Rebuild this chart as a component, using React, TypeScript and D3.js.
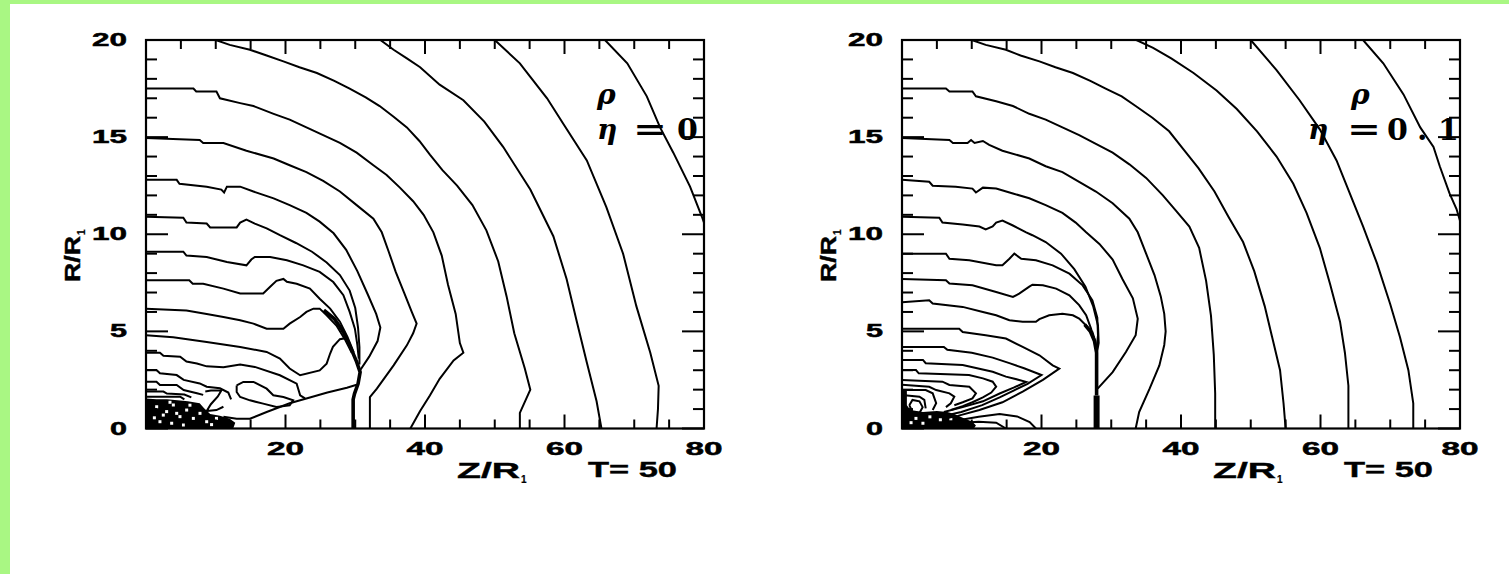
import React from 'react';
import * as d3 from 'd3';

type Pt = [number, number];

// ---- axes / text
const xDomain: Pt = [0, 80];
const yDomain: Pt = [0, 20];
const xTickLabels = [20, 40, 60, 80];
const yTickLabels = [0, 5, 10, 15, 20];
const xTitle = 'Z/R';
const yTitle = 'R/R';
const titleSub = '1';
const timeLabel = 'T= 50';
const paramName = '\u03c1';
const etaName = '\u03b7';
const etaValues = ['0', '0.1'];

// ---- panel 1 (eta = 0) contour lines, [Z/R1, R/R1]
const p1Top66: Pt[] = [[65.8,20],[69,18.8],[71.8,17.1],[73.7,15.5],[75.6,14.2],[78,12.45],[79.7,10.9],[80,10.6]];
const p1Top50: Pt[] = [[50,20],[53.6,18.8],[55.1,18.1],[57.5,17],[59.8,15.7],[63.2,13.8],[66,11.4],[68.4,9],[70.3,6.3],[72.3,3.9],[73.5,2.2],[73.4,1],[73.2,0]];
const p1B: Pt[] = [[33.6,20],[35.5,19.5],[37.4,19.05],[39.3,18.6],[42.1,17.7],[45.5,16.9],[48.5,15.8],[51.2,14.5],[55.1,12.3],[58.4,9.9],[60.3,7.7],[61.7,5.6],[63.2,3.4],[64.6,1.4],[65.3,0]];
const p1A: Pt[] = [[10,20],[12,19.75],[14.9,19.5],[17.3,19.2],[19.7,18.9],[22,18.6],[24.5,18.3],[27,17.9],[29.2,17.5],[31.5,17.05],[33.5,16.6],[35.5,16.05],[37.4,15.5],[39.2,14.8],[40.7,14.1],[42.5,13.3],[44.6,12.5],[46.8,11.5],[48.8,10.2],[50.5,8.6],[51.7,6.8],[52.8,4.9],[54.3,3.1],[55.1,2],[53.6,0.8],[53.6,0]];
const p1C: Pt[] = [[0,17.5],[6.8,17.5],[7.2,17.35],[10.1,17.35],[10.6,17],[13.5,16.75],[15.4,16.6],[18.3,16.2],[20.6,15.9],[23,15.5],[25.4,15.1],[27.8,14.7],[30.2,14.2],[32.6,13.55],[34.5,13.05],[36.4,12.4],[38.3,11.7],[39.8,11],[41.2,10.1],[42.4,8.9],[43.3,7.4],[44.4,5.9],[45,4.4],[45.5,3.9],[44.1,3.5],[42.1,2.56],[40.7,1.7],[39.3,0.9],[37.9,0]];
const p1D: Pt[] = [[0,14.95],[7.7,14.85],[8.2,14.7],[11.1,14.7],[14.4,14.3],[18.3,13.9],[20.6,13.55],[23,13.2],[25.4,12.75],[27.8,12.2],[30.2,11.5],[32.6,10.8],[33.8,10.1],[34.8,9.1],[35.8,8.06],[37,7],[38.1,6],[38.8,5.4],[38.3,4.9],[37.4,4.28],[35.5,3.25],[33.1,2.05],[32.1,1.62],[32.1,0]];
const p1E: Pt[] = [[0,12.8],[4.4,12.8],[4.8,12.6],[8.7,12.45],[10.8,12.3],[11.2,12.15],[11.6,12.45],[13.5,12.45],[15.4,12.2],[18.3,11.85],[20.6,11.5],[23,11.1],[24.9,10.65],[26.9,10.05],[28.7,9.2],[30.3,8.1],[31.8,6.9],[33,5.9],[33.6,5.2],[33.2,4.5],[32,3.7],[30.7,3]];
const p1F: Pt[] = [[0,10.9],[5.35,10.85],[5.8,10.6],[8.7,10.55],[9.2,10.35],[13,10.35],[13.5,10.6],[14.4,10.75],[15.6,10.55],[17.3,10.3],[19.2,9.95],[21.5,9.55],[23.8,9.1],[25.9,8.55],[27.8,7.9],[29.2,7.1],[30,6.2],[30.4,5.2],[30.6,4.2],[30.6,3.3]];
const p1G: Pt[] = [[0,9.1],[5.35,9.1],[5.8,8.9],[8.7,8.83],[11.6,8.57],[14.4,8.4],[15.1,8.7],[15.6,8.83],[17.8,8.83],[20.2,8.66],[22.55,8.4],[24.9,8.06],[26.85,7.54],[28.3,6.86],[29.2,6],[29.95,5.14],[30.3,4.3],[30.5,3.6]];
const p1H: Pt[] = [[0,7.63],[6.2,7.63],[6.7,7.45],[8.2,7.45],[11.1,7.2],[13.5,6.95],[16.8,6.95],[17.8,7.3],[18.7,7.6],[19.7,7.7],[20.2,7.55],[21.6,7.45],[23.5,7.2],[24.9,6.68],[26.4,6.17],[27.8,5.5],[28.9,4.7],[29.8,3.9]];
const p1I: Pt[] = [[0,6.17],[5.8,6.08],[8.7,5.9],[11.1,5.74],[13.5,5.57],[15.4,5.4],[17.3,5.14],[19.7,5.14],[20.6,5.4],[22.1,5.74],[23,6],[24,6.17],[24.9,6.17],[25.9,5.83],[27.3,5.3],[28.5,4.6],[29.5,3.9]];
const p1J: Pt[] = [[0,4.8],[3.9,4.7],[8.7,4.45],[13.5,4.2],[17.3,3.94],[19.2,3.6],[20.6,3.09],[22.1,2.74],[24.9,2.99],[25.9,3.34],[26.4,3.86],[26.8,4.2],[27.8,4.6],[28.6,4.65],[29.3,4.3]];
const p1K: Pt[] = [[0,3.9],[2,3.9],[2.5,3.75],[4.9,3.7],[5.8,3.45],[7.3,3.35],[8.7,3.2],[11.1,3.15],[13.5,3.3],[15.6,3.17],[19.2,2.74],[21.6,2.31],[22.1,1.71],[22.8,1.55]];
const p1L: Pt[] = [[11.1,0.6],[13,0.5],[14.9,0.5],[17.3,0.85],[20.6,1.3],[23.5,1.6],[26,1.85],[28.8,2.1],[30.2,2.25]];
const p1M: Pt[] = [[0,3.01],[1.5,3.01],[2,2.84],[4.4,2.75],[5.4,2.5],[7.7,2.32],[8.7,2.15],[10.6,2.07],[11.8,1.85],[12.2,1.5]];
const p1N: Pt[] = [[0,2.41],[1.5,2.41],[2,2.24],[4.4,2.24],[5.4,1.98],[7.3,1.81],[8.2,1.73]];
const p1O: Pt[] = [[0,1.9],[2.5,1.9],[3,1.8],[5.5,1.75],[6.5,1.6]];
const p1P: Pt[] = [[0,1.64],[4.9,1.64],[5.5,1.5]];
const p1Zig: Pt[] = [[8.5,1.9],[9.3,1.95],[10.8,1.95],[10.3,1.65],[9.3,1.25],[8.7,0.9],[10.1,0.95],[11.1,1.12]];
const p1Island: Pt[] = [[13,2.22],[13.95,2.4],[15.4,2.4],[17.3,2.05],[18.25,1.71],[19.7,1.62],[21.1,1.45],[20.6,1.19],[18.7,1.11],[16.8,1.28],[14.9,1.45],[13.5,1.62],[13,1.88],[13,2.22]];
const p1Shock: Pt[] = [[25.5,6.1],[27,5.65],[28.3,4.97],[29.2,4.28],[30.2,3.43],[30.7,2.9],[30.4,2.3],[29.9,1.8],[29.7,1.5],[29.7,0]];
const p1Dark: Pt[] = [[0,0],[0,1.55],[1.5,1.5],[3,1.5],[4.5,1.45],[6,1.4],[7.7,1.3],[8.3,1.05],[9.2,0.75],[10.6,0.65],[12,0.5],[12.8,0.3],[12.5,0],[0,0]];
const p1Specks: Pt[] = [[1.53,1.12],[2.96,0.87],[3.92,1.21],[4.87,0.61],[5.83,0.95],[2,0.35],[3.68,0.27],[5.35,0.18],[6.79,0.52],[7.74,0.78],[4.4,0.78],[2.48,0.69],[8.7,0.35],[10.1,0.52],[6.3,1.2],[3.44,1.35],[1.2,0.55],[9.4,0.2]];

// ---- panel 2 (eta = 0.1)
const p2Top66: Pt[] = [[66.1,20],[69,18.8],[71.9,17.2],[74.3,15.5],[76.2,14.5],[77.1,13.5],[78.5,12.1],[79.5,11.3],[80,10.7]];
const p2Top50: Pt[] = [[50,20],[53.7,18.45],[57,16.9],[59.9,15.4],[62.3,13.8],[64.2,12.1],[66.1,10.4],[68.1,8.5],[70,6.4],[71.4,4.7],[72.6,3],[73.3,1.3],[73.3,0]];
const p2B: Pt[] = [[33.6,20],[36,19.6],[38.6,19.05],[41.8,18.3],[45.1,17.4],[48,16.45],[50.9,15.3],[53.7,14],[56.1,12.6],[58,11.1],[59.9,9.3],[61.4,7.4],[62.8,5.5],[63.5,3.9],[64,2.2],[64,0]];
const p2A: Pt[] = [[10,20],[12,19.75],[14.9,19.5],[17,19.2],[19.7,18.9],[22,18.6],[24.5,18.3],[27,17.9],[29.2,17.5],[31.5,17.1],[33.5,16.6],[35.9,16],[38.3,15.3],[40.3,14.4],[42.5,13.4],[44.8,12.2],[46.8,10.9],[48.9,9.6],[50.5,8.1],[52,6.3],[53.2,4.5],[54.2,3],[54.7,1.3],[55,0]];
const p2C: Pt[] = [[0,17.5],[6.3,17.5],[6.8,17.35],[10.1,17.35],[10.6,17.1],[13.5,16.85],[15.9,16.6],[18.25,16.2],[20.6,15.9],[23,15.5],[25.4,15.1],[27.8,14.65],[30.2,14.2],[32.6,13.6],[35,12.9],[37.4,12],[39.3,11.2],[41.2,10.4],[42.6,9.3],[43.6,7.6],[44.3,5.8],[44.7,3.8],[44.9,1.8],[44.9,0]];
const p2D: Pt[] = [[0,14.95],[6.8,14.85],[7.3,14.7],[9.4,14.7],[9.9,14.85],[10.4,14.7],[11.6,14.8],[12.5,14.6],[14.4,14.3],[18.25,13.9],[20.6,13.5],[23,13.2],[25.4,12.7],[27.8,12.2],[30.2,11.6],[32.6,10.8],[33.8,10.1],[35,9],[36.2,7.9],[37.1,6.8],[37.6,5.9],[37.8,5],[37.6,4.3],[36.9,3.25],[35.5,2.05],[34,0.85],[33.5,0]];
const p2E: Pt[] = [[0,12.8],[3.9,12.7],[4.4,12.5],[7.7,12.45],[10.1,12.35],[10.6,12.15],[11.6,12.4],[13.5,12.35],[15.9,12.1],[18.25,11.85],[20.6,11.5],[23,11.1],[24.9,10.6],[26.4,10.1],[28.3,9.5],[30.2,8.7],[31.6,7.7],[33.1,6.7],[33.8,5.65],[33.5,4.8],[32.1,3.94],[30.2,2.9],[28.05,2.05]];
const p2F: Pt[] = [[0,10.9],[5.35,10.85],[5.8,10.6],[8.7,10.5],[11.1,10.4],[12,10.25],[13,10.4],[13.5,10.6],[14.4,10.7],[15.9,10.45],[17.8,10.1],[18.7,9.95],[20.6,9.6],[22.8,9],[24.7,8.2],[26.3,7.3],[27.4,6.3],[28.1,5.3],[28.2,4.4],[27.9,3.8]];
const p2G: Pt[] = [[0,9],[6.3,9],[6.8,8.74],[9.65,8.66],[13.5,8.4],[14.4,8.4],[15.4,8.74],[16.1,9],[17.1,8.74],[19.2,8.66],[21.6,8.4],[24,7.97],[25.9,7.37],[27.3,6.6],[28,5.7],[28.1,4.8],[27.9,4.1]];
const p2H: Pt[] = [[0,7.7],[6.3,7.63],[6.8,7.46],[10.1,7.37],[13.5,7.03],[15.9,6.77],[16.8,6.94],[18.25,7.3],[18.7,7.4],[20.2,7.37],[22.1,7.2],[24,6.86],[25.4,6.35],[26.4,5.83],[27.1,5.14],[27.6,4.45]];
const p2I: Pt[] = [[0,6.5],[3.9,6.6],[4.4,6.43],[8.7,6.26],[11.6,6],[13.5,5.83],[15.4,5.57],[17.3,5.49],[19.2,5.49],[19.7,5.63],[21.1,5.83],[23,5.91],[24.5,5.83],[25.4,5.66],[26.4,5.3],[27.3,4.97],[27.7,4.5]];
const p2V1: Pt[] = [[0,5.14],[8.2,5.14],[8.7,4.97],[12,4.8],[14.9,4.63],[17.3,4.2],[19.7,3.77],[21.6,3.25],[22.55,3.08],[20.2,2.5],[17.3,1.9],[14.4,1.35],[11.1,0.95],[8,0.65],[6,0.5]];
const p2V2: Pt[] = [[0,4.2],[6,4.2],[6.5,4.05],[10,3.9],[13,3.65],[15.5,3.35],[17.5,3.1],[20,2.75],[18,2.3],[16,1.95],[14,1.6],[11.5,1.2],[8.5,0.85],[6,0.65]];
const p2V3: Pt[] = [[0,3.53],[3,3.53],[3.4,3.36],[8.7,3.27],[13,2.92],[14.9,2.67],[16.8,2.5],[17.8,2.4],[16,2.1],[14,1.8],[11.6,1.4],[8.7,1.1],[6,0.85]];
const p2V4: Pt[] = [[0,3.01],[2,3.01],[2.4,2.84],[9.6,2.75],[11.6,2.58],[13,2.41],[13.5,2.15],[12.8,1.85],[11.6,1.6],[10.1,1.35],[8.7,1.15],[7,0.95]];
const p2V5: Pt[] = [[0,2.5],[5.8,2.41],[6.8,2.24],[9.65,2.15],[10.6,1.81],[10.1,1.55],[8.7,1.35],[7.5,1.2]];
const p2V6: Pt[] = [[0,2.25],[3.9,2.15],[4.9,1.98],[6.8,1.81],[7.5,1.64],[7,1.3],[6.3,1.1]];
const p2V7: Pt[] = [[0,1.98],[3.4,1.98],[4.4,1.81],[4.9,1.3],[4.4,0.95]];
const p2V8: Pt[] = [[0,1.73],[2.5,1.64],[3.2,1.47],[3.4,1.04]];
const p2Low1: Pt[] = [[8.5,0.45],[11,0.6],[14,0.75],[16.5,0.62],[18.3,0.33],[19.2,0]];
const p2Low2: Pt[] = [[8.5,0.3],[11,0.35],[13.5,0.3],[14.9,0]];
const p2Loop: Pt[] = [[1.05,1.2],[1.5,1.47],[2.5,1.4],[2.96,1.1],[2.5,0.8],[1.5,0.85],[1.05,1.2]];
const p2ShockTop: Pt[] = [[26.2,5.35],[27,5],[27.6,4.5],[27.9,3.9],[27.9,1.7]];
const p2ShockFoot: Pt[] = [[27.9,1.7],[27.9,0]];
const p2Dark: Pt[] = [[0,0],[0,2],[0.7,2],[0.7,1.2],[1.2,0.95],[3,0.85],[5,0.9],[6.5,0.85],[7.5,0.75],[8.7,0.55],[10.1,0.35],[10.6,0.15],[10.3,0],[0,0]];
const p2Specks: Pt[] = [[2,0.52],[3,0.27],[4,0.6],[5.5,0.45],[7,0.5],[1.3,0.3],[2.2,1.12]];

// ---- layout
const W = 1509;
const H = 574;
const PW = 558;
const PH = 388.5;
const TOP = 40;
const BG_GREEN = '#a9f783';
const FONT_AX = 'Liberation Sans, Arial, sans-serif';
const FONT_SYM = 'DejaVu Serif, serif';

const panels = [
  {
    left: 146,
    lines: [p1Top66, p1Top50, p1B, p1A, p1C, p1D, p1E, p1F, p1G, p1H, p1I, p1J, p1K, p1L, p1M, p1N, p1O, p1P, p1Zig, p1Island],
    thick: [p1Shock],
    extra: [] as Pt[][],
    dark: p1Dark,
    specks: p1Specks,
    eta: etaValues[0],
    rhoX: 451, etaX: 451, eqX: 487, valX: 531,
  },
  {
    left: 902,
    lines: [p2Top66, p2Top50, p2B, p2A, p2C, p2D, p2E, p2F, p2G, p2H, p2I, p2V1, p2V2, p2V3, p2V4, p2V5, p2V6, p2V7, p2V8, p2Low1, p2Low2, p2Loop],
    thick: [p2ShockTop],
    extra: [p2ShockFoot],
    dark: p2Dark,
    specks: p2Specks,
    eta: etaValues[1],
    rhoX: 449, etaX: 406, eqX: 445, valX: 485,
  },
];

type PanelProps = (typeof panels)[number];

function Panel(p: PanelProps) {
  const { left } = p;
  const x = d3.scaleLinear().domain(xDomain).range([left, left + PW]);
  const y = d3.scaleLinear().domain(yDomain).range([TOP + PH, TOP]);
  const line = d3.line<Pt>().x(d => x(d[0])).y(d => y(d[1]));
  const clipId = `clip-${left}`;
  const bottom = TOP + PH;
  const right = left + PW;
  const valParts = p.eta.split('.');

  return (
    <g>
      <defs>
        <clipPath id={clipId}>
          <rect x={left} y={TOP} width={PW} height={PH} />
        </clipPath>
      </defs>
      <g clipPath={`url(#${clipId})`}>
        <path d={line(p.dark) || ''} fill="#000" />
        {p.specks.map((d, i) => (
          <rect key={i} x={x(d[0]) - 1.5} y={y(d[1]) - 1.5} width={3} height={3} fill="#fff" />
        ))}
        {p.lines.map((l, i) => (
          <path key={i} d={line(l) || ''} fill="none" stroke="#000" strokeWidth={2} />
        ))}
        {p.thick.map((l, i) => (
          <path key={i} d={line(l) || ''} fill="none" stroke="#000" strokeWidth={3.6} />
        ))}
        {p.extra.map((l, i) => (
          <path key={i} d={line(l) || ''} fill="none" stroke="#000" strokeWidth={6} />
        ))}
      </g>

      {/* ticks */}
      {x.ticks(16).map(v => {
        const len = v % 20 === 0 ? 14 : 9;
        return (
          <g key={'x' + v} stroke="#000" strokeWidth={2}>
            <line x1={x(v)} x2={x(v)} y1={bottom} y2={bottom - len} />
            <line x1={x(v)} x2={x(v)} y1={TOP} y2={TOP + len} />
          </g>
        );
      })}
      {y.ticks(20).map(v => {
        const len = v % 5 === 0 ? 22 : 11;
        return (
          <g key={'y' + v} stroke="#000" strokeWidth={2}>
            <line x1={left} x2={left + len} y1={y(v)} y2={y(v)} />
            <line x1={right} x2={right - len} y1={y(v)} y2={y(v)} />
          </g>
        );
      })}
      <rect x={left} y={TOP} width={PW} height={PH} fill="none" stroke="#000" strokeWidth={2.2} />

      {/* tick labels */}
      <g fontFamily={FONT_AX} fontWeight="bold" fontSize={18} fill="#000" stroke="#000" strokeWidth={0.5}>
        {yTickLabels.map(v => (
          <text key={v} x={left - 19} y={y(v)} textAnchor="end" dominantBaseline="central"
            textLength={String(v).length === 1 ? 17 : 35} lengthAdjust="spacingAndGlyphs">{v}</text>
        ))}
        {xTickLabels.map(v => (
          <text key={v} x={x(v)} y={449} textAnchor="middle" dominantBaseline="central"
            textLength={37} lengthAdjust="spacingAndGlyphs">{v}</text>
        ))}
      </g>

      {/* axis titles */}
      <g fontFamily={FONT_AX} fontWeight="bold" fill="#000" stroke="#000" strokeWidth={0.4}>
        <text x={left + 311} y={478} fontSize={22} textLength={63} lengthAdjust="spacingAndGlyphs">{xTitle}</text>
        <text x={left + 375} y={483} fontSize={10} strokeWidth={0.2}>{titleSub}</text>
        <text x={left + 442} y={477} fontSize={22} textLength={89} lengthAdjust="spacingAndGlyphs">{timeLabel}</text>
        <g transform={`translate(${left - 74},259) rotate(-90)`}>
          <text x={0} y={8} fontSize={22} textAnchor="middle" textLength={46} lengthAdjust="spacingAndGlyphs">{yTitle}</text>
          <text x={24} y={13} fontSize={10} strokeWidth={0.2}>{titleSub}</text>
        </g>
      </g>

      {/* parameter label */}
      <g fontFamily={FONT_SYM} fontWeight="bold" fill="#000">
        <text x={left + p.rhoX} y={104} fontSize={28} fontStyle="italic">{paramName}</text>
        <text x={left + p.etaX} y={139} fontSize={28} fontStyle="italic">{etaName}</text>
        <text x={left + p.eqX} y={139} fontSize={30} textLength={34} lengthAdjust="spacingAndGlyphs">=</text>
        <text x={left + p.valX} y={140} fontSize={30}>{valParts[0]}</text>
        {valParts[1] && (
          <>
            <text x={left + p.valX + 30} y={140} fontSize={30}>.</text>
            <text x={left + p.valX + 51} y={140} fontSize={30}>{valParts[1]}</text>
          </>
        )}
      </g>
    </g>
  );
}

export default function App() {
  return (
    <svg width={W} height={H} style={{ position: 'absolute', left: 0, top: 0, background: '#fff' }}>
      <rect x={0} y={0} width={W} height={H} fill="#fff" />
      <rect x={0} y={0} width={W} height={4} fill={BG_GREEN} />
      <rect x={0} y={0} width={10} height={H} fill={BG_GREEN} />
      {panels.map(p => <Panel key={p.left} {...p} />)}
    </svg>
  );
}
